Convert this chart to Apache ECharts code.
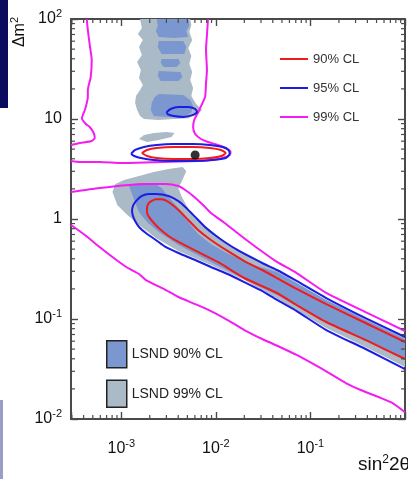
<!DOCTYPE html>
<html>
<head>
<meta charset="utf-8">
<script src="https://cdn.jsdelivr.net/npm/echarts@6/dist/echarts.min.js"></script>
<style>
  html, body { margin: 0; padding: 0; background: #fff; }
  #chart { width: 408px; height: 479px; }
</style>
</head>
<body>
<div id="chart"></div>
<script>
// Axis ranges (sin^2 2theta, delta m^2 in eV^2)
const xMin = 2.94e-4, xMax = 1;
const yMin = 0.01, yMax = 100;

// 99% CL exclusion contours (magenta)
const cl99A = [[4.32e-4,100],[4.43e-4,77.6],[4.64e-4,55.0],[4.87e-4,38.9],[4.75e-4,26.3],[4.43e-4,19.5],[4.43e-4,16.6],[4.32e-4,14.5],[4.12e-4,12.3],[3.93e-4,11.0],[3.83e-4,10.2],[4.22e-4,8.91],[4.64e-4,8.32],[5.11e-4,7.24],[5.24e-4,6.46],[4.87e-4,6.03],[3.65e-4,5.75],[2.94e-4,5.50]];
const cl99B = [[2.94e-4,3.80],[3.65e-4,3.72],[5.90e-4,3.72],[1.02e-3,3.63],[2.67e-3,3.72],[6.49e-3,3.80],[8.87e-3,3.89],[1.18e-2,4.07],[1.40e-2,4.37],[1.43e-2,4.68],[1.27e-2,5.13],[1.05e-2,5.50],[8.26e-3,5.89],[6.98e-3,6.31],[6.04e-3,7.08],[5.75e-3,8.32],[5.90e-3,9.77],[6.49e-3,11.7],[7.68e-3,16.6],[7.87e-3,22.9],[8.05e-3,30.9],[7.87e-3,49.0],[8.05e-3,69.2],[8.26e-3,100]];
const cl99C = [[2.94e-4,1.86],[5.90e-4,2.04],[1.21e-3,2.19],[1.96e-3,2.24],[2.94e-3,2.24],[4.02e-3,2.14],[4.75e-3,1.95],[5.75e-3,1.70],[7.32e-3,1.38],[8.87e-3,1.15],[1.24e-2,0.912],[1.69e-2,0.724],[2.32e-2,0.575],[3.24e-2,0.457],[4.43e-2,0.372],[7.15e-2,0.288],[0.147,0.182],[0.383,0.117],[1,0.0759]];
const cl99D = [[2.94e-4,0.871],[4.12e-4,0.692],[5.90e-4,0.525],[8.06e-4,0.417],[1.13e-3,0.331],[1.54e-3,0.282],[1.82e-3,0.245],[2.81e-3,0.200],[4.02e-3,0.166],[6.04e-3,0.141],[8.87e-3,0.120],[1.33e-2,0.0977],[2.00e-2,0.0776],[3.09e-2,0.0631],[4.75e-2,0.0525],[7.15e-2,0.0437],[0.107,0.0355],[0.158,0.0288],[0.237,0.0229],[0.340,0.0195],[0.524,0.0166],[0.733,0.0145],[1,0.0117]];

// 95% CL contours (blue)
const cl95Island = [[1.27e-3,4.47],[1.40e-3,4.90],[1.74e-3,5.25],[2.37e-3,5.50],[3.56e-3,5.62],[5.75e-3,5.62],[8.66e-3,5.50],[1.18e-2,5.25],[1.36e-2,4.90],[1.40e-2,4.47],[1.27e-2,4.07],[9.30e-3,3.89],[5.75e-3,3.80],[3.56e-3,3.80],[2.21e-3,3.89],[1.61e-3,4.07],[1.37e-3,4.27],[1.27e-3,4.47]];
const cl95Small = [[3.01e-3,11.7],[3.32e-3,12.6],[4.02e-3,13.2],[5.11e-3,13.2],[6.04e-3,12.6],[6.34e-3,11.7],[5.75e-3,11.0],[4.53e-3,10.5],[3.56e-3,10.7],[3.09e-3,11.2],[3.01e-3,11.7]];
const cl95Band = [[1,0.0661],[0.383,0.102],[0.147,0.162],[7.15e-2,0.240],[4.43e-2,0.309],[3.24e-2,0.355],[2.32e-2,0.417],[1.69e-2,0.490],[1.24e-2,0.589],[9.77e-3,0.692],[7.68e-3,0.832],[6.04e-3,1.05],[4.75e-3,1.32],[4.02e-3,1.51],[3.16e-3,1.70],[2.32e-3,1.78],[1.96e-3,1.78],[1.65e-3,1.70],[1.43e-3,1.51],[1.33e-3,1.35],[1.30e-3,1.20],[1.33e-3,1.07],[1.40e-3,0.955],[1.54e-3,0.832],[1.82e-3,0.724],[2.32e-3,0.617],[2.94e-3,0.525],[4.02e-3,0.457],[6.04e-3,0.389],[8.87e-3,0.331],[1.33e-2,0.282],[2.00e-2,0.234],[2.94e-2,0.195],[4.43e-2,0.155],[7.15e-2,0.120],[0.147,0.0776],[0.383,0.0501],[1,0.0316]];

// 90% CL contours (red)
const cl90Island = [[1.65e-3,4.57],[1.87e-3,4.90],[2.37e-3,5.13],[3.56e-3,5.25],[5.75e-3,5.25],[8.66e-3,5.13],[1.13e-2,4.90],[1.27e-2,4.57],[1.15e-2,4.27],[8.66e-3,4.07],[5.75e-3,3.98],[3.56e-3,3.98],[2.37e-3,4.07],[1.87e-3,4.27],[1.65e-3,4.57]];
const cl90Band = [[1,0.0589],[0.383,0.0912],[0.147,0.141],[7.15e-2,0.200],[4.43e-2,0.257],[3.09e-2,0.309],[2.00e-2,0.380],[1.33e-2,0.479],[8.87e-3,0.617],[6.49e-3,0.776],[5.11e-3,0.977],[4.02e-3,1.23],[3.16e-3,1.48],[2.67e-3,1.58],[2.32e-3,1.58],[1.96e-3,1.45],[1.87e-3,1.29],[1.87e-3,1.17],[1.96e-3,1.05],[2.21e-3,0.912],[2.49e-3,0.813],[3.16e-3,0.676],[4.02e-3,0.589],[6.49e-3,0.468],[1.05e-2,0.372],[2.00e-2,0.257],[4.43e-2,0.182],[7.15e-2,0.138],[0.147,0.0933],[0.383,0.0617],[1,0.0398]];

// Best-fit point
const bestFit = [[6.04e-3, 4.37]];

// LSND 99% CL allowed regions
const lsnd99Column = [[1.58e-3,100],[1.65e-3,81.3],[1.50e-3,70.8],[1.69e-3,61.7],[1.54e-3,52.5],[1.65e-3,43.7],[1.47e-3,37.2],[1.61e-3,30.9],[1.54e-3,25.7],[1.69e-3,21.9],[1.58e-3,19.5],[1.43e-3,17.0],[1.40e-3,14.5],[1.47e-3,12.3],[1.58e-3,10.7],[1.74e-3,10.0],[2.49e-3,9.77],[3.56e-3,10.0],[5.11e-3,10.2],[6.49e-3,11.2],[7.14e-3,12.3],[6.19e-3,14.1],[5.50e-3,17.0],[5.75e-3,20.4],[5.36e-3,24.5],[5.62e-3,29.5],[5.24e-3,35.5],[5.50e-3,42.7],[5.11e-3,51.3],[5.62e-3,61.7],[5.24e-3,74.1],[5.50e-3,87.1],[5.36e-3,100]];
const lsnd99Knot = [[1.54e-3,6.31],[1.74e-3,6.92],[2.21e-3,7.24],[3.01e-3,7.41],[3.65e-3,7.24],[3.40e-3,6.61],[2.49e-3,6.17],[1.87e-3,5.89]];
const lsnd99Band = [[8.06e-4,1.86],[8.66e-4,2.24],[1.07e-3,2.45],[1.54e-3,2.69],[2.21e-3,2.95],[3.16e-3,3.16],[4.43e-3,3.31],[4.87e-3,3.02],[4.43e-3,2.45],[4.02e-3,2.04],[4.32e-3,1.70],[5.11e-3,1.26],[6.49e-3,0.977],[9.30e-3,0.741],[1.33e-2,0.562],[2.15e-2,0.447],[4.43e-2,0.302],[0.147,0.155],[0.383,0.100],[1,0.0646],[1,0.0331],[0.383,0.0525],[0.147,0.0813],[4.43e-2,0.160],[2.00e-2,0.245],[8.87e-3,0.347],[4.02e-3,0.479],[2.32e-3,0.646],[1.54e-3,0.871],[1.13e-3,1.12],[9.08e-4,1.38]];

// LSND 90% CL allowed regions
const lsnd90Top = [[2.37e-3,100],[5.11e-3,100],[5.24e-3,85.1],[4.87e-3,75.9],[5.11e-3,66.1],[3.56e-3,64.6],[2.49e-3,66.1],[2.32e-3,75.9],[2.43e-3,85.1]];
const lsnd90Stripe1 = [[2.49e-3,60.3],[4.53e-3,60.3],[4.87e-3,52.5],[4.64e-3,44.7],[2.67e-3,44.7],[2.43e-3,52.5]];
const lsnd90Stripe2 = [[2.67e-3,39.8],[4.02e-3,39.8],[4.22e-3,36.3],[3.83e-3,33.1],[2.81e-3,33.1],[2.61e-3,36.3]];
const lsnd90Stripe3 = [[2.49e-3,30.2],[4.22e-3,29.5],[4.43e-3,26.3],[4.02e-3,24.0],[2.61e-3,24.0],[2.43e-3,26.9]];
const lsnd90Blob = [[2.49e-3,17.8],[4.53e-3,17.4],[5.36e-3,15.5],[5.75e-3,13.5],[5.50e-3,11.7],[4.87e-3,10.7],[3.16e-3,10.5],[2.21e-3,10.7],[2.05e-3,12.3],[2.10e-3,14.5],[2.26e-3,16.6]];
const lsnd90Band = [[1.21e-3,2.14],[1.54e-3,2.29],[2.21e-3,2.29],[2.67e-3,2.04],[3.16e-3,1.66],[4.02e-3,1.29],[5.11e-3,0.933],[6.49e-3,0.708],[8.87e-3,0.562],[1.24e-2,0.468],[2.32e-2,0.355],[4.43e-2,0.295],[0.147,0.155],[0.383,0.0977],[1,0.0631],[1,0.0398],[0.383,0.0603],[0.147,0.0912],[4.43e-2,0.174],[2.00e-2,0.251],[8.87e-3,0.372],[4.02e-3,0.550],[2.49e-3,0.741],[1.87e-3,0.933],[1.54e-3,1.17],[1.37e-3,1.55]];

const lsnd99Regions = [lsnd99Column, lsnd99Knot, lsnd99Band];
const lsnd90Regions = [lsnd90Top, lsnd90Stripe1, lsnd90Stripe2, lsnd90Stripe3, lsnd90Blob, lsnd90Band];

const FONT = '"Liberation Sans", Arial, sans-serif';
const RED = '#f01c1c', BLUE = '#1c1ce4', MAGENTA = '#f41cf0';
const FILL90 = '#7b97cf', FILL99 = '#aabac7';
const AXIS = '#4a4a4a';

// Minor tick positions (2..9 within each decade)
const minorX = [], minorY = [];
for (let e = -4; e < 0; e++) for (let m = 2; m <= 9; m++) { const v = m * Math.pow(10, e); if (v > xMin && v < xMax) minorX.push(v); }
for (let e = -2; e < 2; e++) for (let m = 2; m <= 9; m++) minorY.push(m * Math.pow(10, e));

function powLabel(v, hideOne) {
  const l = Math.log10(v), e = Math.round(l);
  if (Math.abs(l - e) > 1e-6) return '';
  if (e === 0) return hideOne ? '' : '1';
  if (e === 1) return '10';
  return '10{e|' + e + '}';
}
// Superscript: small text pushed to the top of a taller line box
const supRich = { e: { fontSize: 11, fontFamily: FONT, color: '#111', verticalAlign: 'top', padding: [0, 0, 10, 0] } };
const supRichBig = { e: { fontSize: 12, fontFamily: FONT, color: '#111', verticalAlign: 'top', padding: [0, 0, 11, 0] } };

function regionSeries(name, pts, color) {
  return {
    type: 'custom', name: name, coordinateSystem: 'cartesian2d', clip: true, silent: true, z: 1,
    itemStyle: { color: color },
    data: [pts[0]],
    renderItem: function (params, api) {
      return { type: 'polygon', shape: { points: pts.map(function (p) { return api.coord(p); }) }, style: { fill: color } };
    }
  };
}
function contourSeries(name, pts, color) {
  return {
    type: 'line', name: name, data: pts, color: color, showSymbol: false, smooth: 0.2, clip: true, silent: true, z: 3,
    lineStyle: { color: color, width: 2 }
  };
}
function tickSeries(values, isX) {
  return {
    type: 'custom', silent: true, clip: false, z: 6,
    data: values.map(function (v) { return isX ? [v, yMin] : [xMin, v]; }),
    renderItem: function (params, api) {
      const st = { stroke: AXIS, lineWidth: 1.2 };
      if (isX) {
        const v = api.value(0);
        const b = api.coord([v, yMin]), t = api.coord([v, yMax]);
        return { type: 'group', children: [
          { type: 'line', shape: { x1: b[0], y1: b[1], x2: b[0], y2: b[1] - 4 }, style: st },
          { type: 'line', shape: { x1: t[0], y1: t[1], x2: t[0], y2: t[1] + 4 }, style: st }
        ] };
      }
      const v = api.value(1);
      const l = api.coord([xMin, v]), r = api.coord([xMax, v]);
      return { type: 'group', children: [
        { type: 'line', shape: { x1: l[0], y1: l[1], x2: l[0] + 4, y2: l[1] }, style: st },
        { type: 'line', shape: { x1: r[0], y1: r[1], x2: r[0] - 4, y2: r[1] }, style: st }
      ] };
    }
  };
}

const series = [];
lsnd99Regions.forEach(function (r) { series.push(regionSeries('LSND 99% CL', r, FILL99)); });
lsnd90Regions.forEach(function (r) { series.push(regionSeries('LSND 90% CL', r, FILL90)); });
[cl99A, cl99B, cl99C, cl99D].forEach(function (c) { series.push(contourSeries('99% CL', c, MAGENTA)); });
[cl95Island, cl95Small, cl95Band].forEach(function (c) { series.push(contourSeries('95% CL', c, BLUE)); });
[cl90Island, cl90Band].forEach(function (c) { series.push(contourSeries('90% CL', c, RED)); });
series.push({ type: 'scatter', data: bestFit, symbolSize: 9, itemStyle: { color: '#000' }, z: 4, silent: true });
series.push(tickSeries(minorX, true));
series.push(tickSeries(minorY, false));

function axisCommon(show) {
  return {
    type: 'log', logBase: 10,
    axisLine: { show: true, onZero: false, lineStyle: { color: AXIS, width: 2 } },
    axisTick: { show: true, inside: true, length: 7, lineStyle: { color: AXIS, width: 1.4 } },
    splitLine: { show: false }, minorTick: { show: false },
    axisLabel: { show: show }
  };
}

const xBottom = Object.assign(axisCommon(true), { min: xMin, max: xMax, position: 'bottom' });
xBottom.axisLabel = { show: true, margin: 19, fontSize: 16, fontFamily: FONT, color: '#111', rich: supRich,
  formatter: function (v) { return powLabel(v, true); } };
const xTop = Object.assign(axisCommon(false), { min: xMin, max: xMax, position: 'top' });
const yLeft = Object.assign(axisCommon(true), { min: yMin, max: yMax, position: 'left' });
yLeft.axisLabel = { show: true, margin: 9, fontSize: 16, fontFamily: FONT, color: '#111', rich: supRich,
  formatter: function (v) { return powLabel(v, false); } };
const yRight = Object.assign(axisCommon(false), { min: yMin, max: yMax, position: 'right' });

const chart = echarts.init(document.getElementById('chart'), null, { renderer: 'canvas' });
chart.setOption({
  animation: false,
  backgroundColor: '#fff',
  grid: { left: 71, top: 19, width: 339, height: 400, containLabel: false },
  xAxis: [xBottom, xTop],
  yAxis: [yLeft, yRight],
  legend: [
    { data: ['90% CL', '95% CL', '99% CL'], orient: 'vertical', left: 275, top: 46, icon: 'rect',
      itemWidth: 28, itemHeight: 2, itemGap: 13, selectedMode: false,
      textStyle: { fontSize: 13, lineHeight: 16, color: '#333', fontFamily: FONT } },
    { data: ['LSND 90% CL', 'LSND 99% CL'], orient: 'vertical', left: 101, top: 335, icon: 'rect',
      itemWidth: 20, itemHeight: 27, itemGap: 11, selectedMode: false,
      itemStyle: { borderColor: '#222', borderWidth: 1.5 },
      textStyle: { fontSize: 14, color: '#222', fontFamily: FONT } }
  ],
  graphic: [
    { type: 'rect', shape: { x: 0, y: 0, width: 8, height: 108 }, style: { fill: '#0c0c5e' }, silent: true },
    { type: 'rect', shape: { x: 0, y: 400, width: 3, height: 79 }, style: { fill: '#9c9cc8' }, silent: true },
    { type: 'text', x: 20, y: 32, rotation: Math.PI / 2, silent: true,
      style: { text: 'Δm{e|2}', rich: supRich, fontSize: 16, fontFamily: FONT, fill: '#111', align: 'center', verticalAlign: 'middle' } },
    { type: 'text', x: 358, y: 465, silent: true,
      style: { text: 'sin{e|2}2θ', rich: supRichBig, fontSize: 19, fontFamily: FONT, fill: '#111', align: 'left', verticalAlign: 'middle' } }
  ],
  series: series
});
</script>
</body>
</html>
